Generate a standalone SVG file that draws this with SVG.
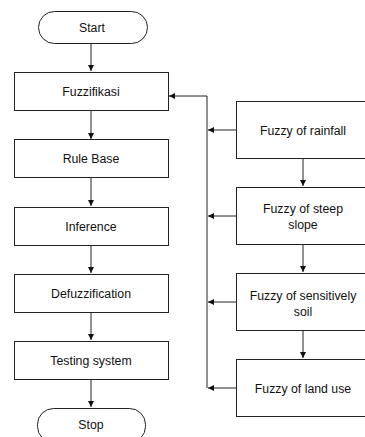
<svg xmlns="http://www.w3.org/2000/svg" width="365" height="437" viewBox="0 0 365 437">
<defs>
<marker id="ah" markerWidth="8" markerHeight="8" refX="7" refY="4" orient="auto" markerUnits="userSpaceOnUse">
<path d="M1,1 L7,4 L1,7 Z" fill="#111"/>
</marker>
<style>
.box{fill:#fff;stroke:#222;stroke-width:1}
.t{font-family:"Liberation Sans",Arial,sans-serif;font-size:12.3px;fill:#111;text-anchor:middle}
.c{fill:none;stroke:#222;stroke-width:1}
</style>
</defs>
<rect width="365" height="437" fill="#fff"/>
<g id="connectors">
<line class="c" x1="91" y1="43" x2="91" y2="71" marker-end="url(#ah)"/>
<line class="c" x1="91" y1="110" x2="91" y2="139" marker-end="url(#ah)"/>
<line class="c" x1="91" y1="177" x2="91" y2="206" marker-end="url(#ah)"/>
<line class="c" x1="91" y1="245" x2="91" y2="273" marker-end="url(#ah)"/>
<line class="c" x1="91" y1="312" x2="91" y2="340" marker-end="url(#ah)"/>
<line class="c" x1="91" y1="379" x2="91" y2="407" marker-end="url(#ah)"/>
<polyline class="c" points="207,388 207,96 169,96" marker-end="url(#ah)"/>
<line class="c" x1="236" y1="130" x2="208" y2="130" marker-end="url(#ah)"/>
<line class="c" x1="236" y1="216" x2="208" y2="216" marker-end="url(#ah)"/>
<line class="c" x1="236" y1="302" x2="208" y2="302" marker-end="url(#ah)"/>
<line class="c" x1="236" y1="388" x2="208" y2="388" marker-end="url(#ah)"/>
<line class="c" x1="303" y1="158" x2="303" y2="186" marker-end="url(#ah)"/>
<line class="c" x1="303" y1="245" x2="303" y2="272" marker-end="url(#ah)"/>
<line class="c" x1="303" y1="331" x2="303" y2="358" marker-end="url(#ah)"/>
</g>
<g id="start"><rect class="box" x="38.5" y="11.5" width="109" height="32" rx="16"/><text class="t" x="92" y="31.5">Start</text></g>
<g id="fuzzifikasi"><rect class="box" x="14.5" y="72.5" width="154" height="38"/><text class="t" x="91" y="95.5">Fuzzifikasi</text></g>
<g id="rulebase"><rect class="box" x="14.5" y="139.5" width="154" height="38"/><text class="t" x="91" y="162.5">Rule Base</text></g>
<g id="inference"><rect class="box" x="14.5" y="207.5" width="154" height="38"/><text class="t" x="91" y="230.5">Inference</text></g>
<g id="defuzzification"><rect class="box" x="14.5" y="274.5" width="154" height="38"/><text class="t" x="91" y="297.5">Defuzzification</text></g>
<g id="testing"><rect class="box" x="14.5" y="341.5" width="154" height="38"/><text class="t" x="91" y="364.5">Testing system</text></g>
<g id="stop"><rect class="box" x="37.5" y="408.5" width="108" height="34" rx="16"/><text class="t" x="91" y="429">Stop</text></g>
<g id="rainfall"><rect class="box" x="236.5" y="101.5" width="134" height="57"/><text class="t" x="303" y="134.5">Fuzzy of rainfall</text></g>
<g id="slope"><rect class="box" x="236.5" y="187.5" width="134" height="57"/><text class="t" x="303" y="212.5">Fuzzy of steep</text><text class="t" x="303" y="228.5">slope</text></g>
<g id="soil"><rect class="box" x="236.5" y="273.5" width="134" height="57"/><text class="t" x="303" y="299.5">Fuzzy of sensitively</text><text class="t" x="303" y="315.5">soil</text></g>
<g id="landuse"><rect class="box" x="236.5" y="359.5" width="134" height="57"/><text class="t" x="303" y="392.5">Fuzzy of land use</text></g>
</svg>
